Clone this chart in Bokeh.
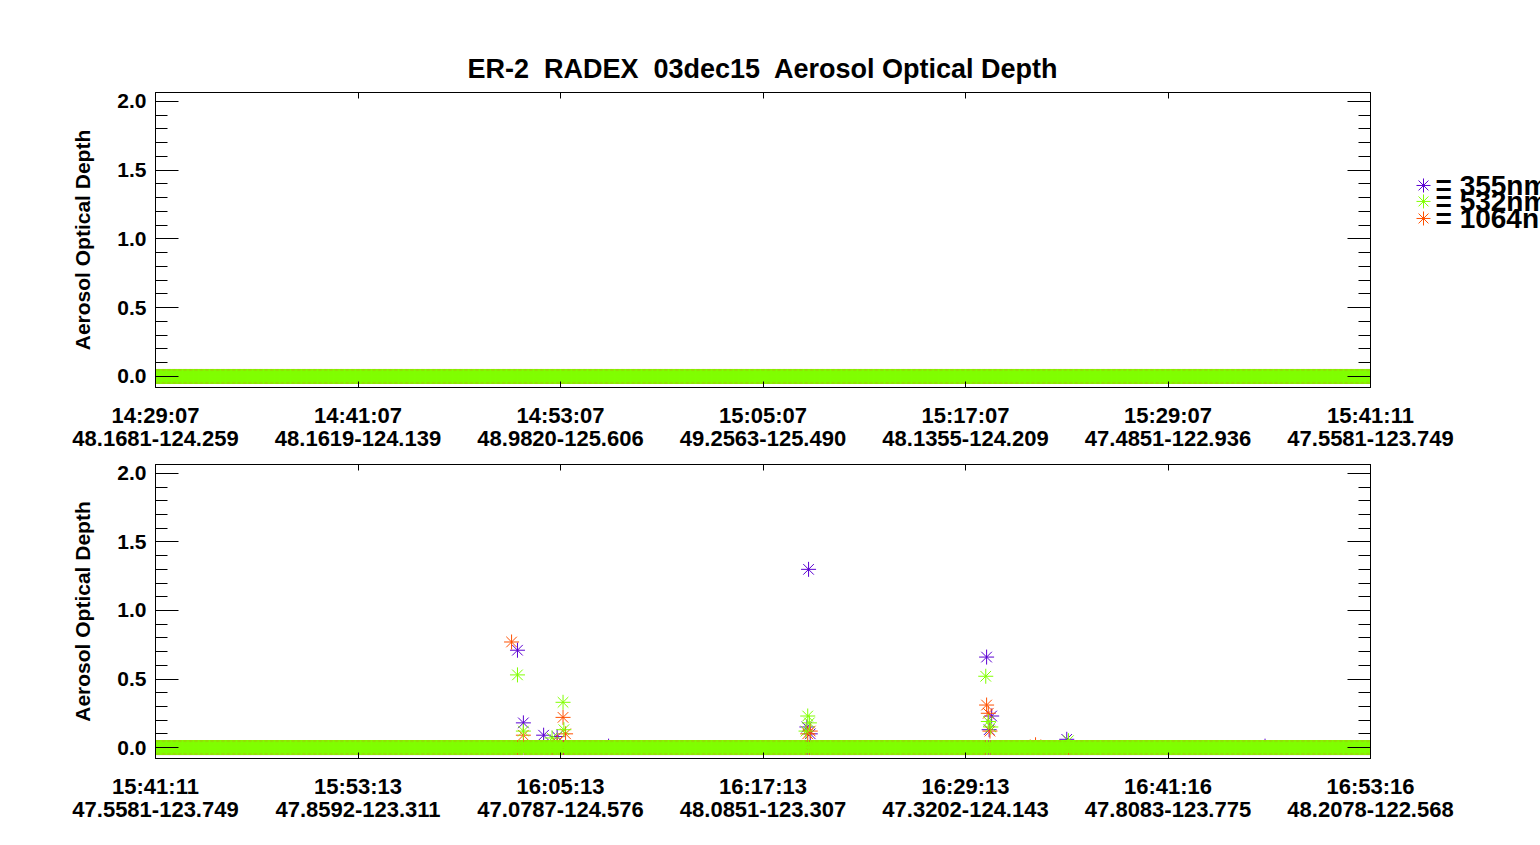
import numpy as np
from bokeh.plotting import figure
from bokeh.models import FixedTicker, LinearAxis, Range1d
from bokeh.layouts import column, row
from bokeh.embed import file_html
from bokeh.resources import INLINE
from bokeh.core.properties import value

## data ##

# each leg is 1441 retrieval samples, labelled every 240 samples
n_samples = 1441
tick_idx = [0, 240, 480, 720, 960, 1200, 1440]

leg1_times = ["14:29:07", "14:41:07", "14:53:07", "15:05:07", "15:17:07", "15:29:07", "15:41:11"]
leg1_pos = ["48.1681-124.259", "48.1619-124.139", "48.9820-125.606", "49.2563-125.490",
            "48.1355-124.209", "47.4851-122.936", "47.5581-123.749"]
leg2_times = ["15:41:11", "15:53:13", "16:05:13", "16:17:13", "16:29:13", "16:41:16", "16:53:16"]
leg2_pos = ["47.5581-123.749", "47.8592-123.311", "47.0787-124.576", "48.0851-123.307",
            "47.3202-124.143", "47.8083-123.775", "48.2078-122.568"]

# first leg: no aerosol anywhere (all retrievals 0.0)
leg1_idx_355, leg1_aod_355 = [], []
leg1_idx_532, leg1_aod_532 = [], []
leg1_idx_1064, leg1_aod_1064 = [], []

# second leg: non-zero retrievals (sample, aod); the rest are 0.0
leg2_idx_355 = [429, 436, 460, 476, 537, 772, 774, 776, 985, 988, 991, 1080, 1315]
leg2_aod_355 = [0.71, 0.18, 0.09, 0.08, 0.01, 0.15, 1.30, 0.10, 0.66, 0.13, 0.23, 0.06, 0.01]
leg2_idx_532 = [429, 436, 470, 483, 484, 771, 773, 775, 984, 987, 990, 1082]
leg2_aod_532 = [0.53, 0.12, 0.07, 0.33, 0.13, 0.12, 0.23, 0.18, 0.52, 0.19, 0.15, 0.05]
leg2_idx_1064 = [422, 436, 476, 483, 486, 773, 776, 985, 987, 989, 1043]
leg2_aod_1064 = [0.77, 0.09, 0.04, 0.22, 0.10, 0.10, 0.12, 0.31, 0.25, 0.12, 0.02]

wavelengths = ["355nm", "532nm", "1064nm"]
colors = ["#5a00d2", "#80ff00", "#ff5000"]

FONT = "Liberation Sans"
TITLE = "ER-2\u00a0 RADEX\u00a0 03dec15\u00a0 Aerosol Optical Depth"
Y_LO, Y_HI = -0.08, 2.065


def series(idx, vals):
    aod = np.zeros(n_samples)
    aod[idx] = vals
    return aod


def style_labels(ax, size):
    ax.major_label_text_font = FONT
    ax.major_label_text_font_size = size
    ax.major_label_text_font_style = "bold"
    ax.major_label_text_color = "black"


def make_panel(times, pos, data, height, top, bottom, title=None):
    p = figure(width=1540, height=height, x_range=Range1d(0, 1440),
               y_range=Range1d(Y_LO, Y_HI), output_backend="svg",
               toolbar_location=None, min_border_left=155, min_border_right=170,
               min_border_top=top, min_border_bottom=bottom)
    p.grid.visible = False
    p.outline_line_color = "black"
    p.background_fill_color = "white"
    p.border_fill_color = "white"

    if title:
        p.title.text = title
        p.title.align = "center"
        p.title.text_font = FONT
        p.title.text_font_size = "27px"
        p.title.text_font_style = "bold"
        p.title.text_color = "black"
        p.title.standoff = 18

    samples = np.arange(n_samples)
    # 355 and 1064 first, 532 drawn last so it sits on top
    for k in [0, 2, 1]:
        idx, vals = data[k]
        p.scatter(samples, series(idx, vals), marker="asterisk", size=15,
                  line_color=colors[k], line_width=1)

    # bottom: time on first row, lat-lon on second row
    xt = FixedTicker(ticks=tick_idx, minor_ticks=[])
    ax = p.xaxis[0]
    ax.ticker = xt
    ax.major_label_overrides = {t: l for t, l in zip(tick_idx, times)}
    ax.major_tick_in = 6
    ax.major_tick_out = 0
    ax.major_label_standoff = 15
    style_labels(ax, "22px")

    ax2 = LinearAxis(ticker=xt, major_tick_in=0, major_tick_out=0, axis_line_color=None,
                     major_label_overrides={t: l for t, l in zip(tick_idx, pos)},
                     major_label_standoff=0)
    style_labels(ax2, "22px")
    p.add_layout(ax2, "below")

    ax_top = LinearAxis(ticker=xt, major_tick_in=6, major_tick_out=0,
                        major_label_overrides={t: "" for t in tick_idx},
                        major_label_text_color=None, major_label_standoff=0)
    p.add_layout(ax_top, "above")

    yt = FixedTicker(ticks=[0.0, 0.5, 1.0, 1.5, 2.0],
                     minor_ticks=[round(0.1 * i, 1) for i in range(21)])
    ay = p.yaxis[0]
    ay.ticker = yt
    ay.axis_label = "Aerosol Optical Depth"
    ay.axis_label_text_font = FONT
    ay.axis_label_text_font_size = "21px"
    ay.axis_label_text_font_style = "bold"
    ay.axis_label_text_color = "black"
    ay.axis_label_standoff = 20
    ay.major_tick_in = 23
    ay.major_tick_out = 0
    ay.minor_tick_in = 12
    ay.minor_tick_out = 0
    ay.major_label_standoff = 9
    style_labels(ay, "21px")
    ay.major_label_overrides = {0.0: "0.0", 0.5: "0.5", 1.0: "1.0", 1.5: "1.5", 2.0: "2.0"}

    ay_right = LinearAxis(ticker=yt, major_tick_in=23, major_tick_out=0,
                          minor_tick_in=12, minor_tick_out=0,
                          major_label_overrides={t: "" for t in [0.0, 0.5, 1.0, 1.5, 2.0]},
                          major_label_text_color=None, major_label_standoff=0)
    p.add_layout(ay_right, "right")
    return p


p1 = make_panel(leg1_times, leg1_pos,
                [(leg1_idx_355, leg1_aod_355), (leg1_idx_532, leg1_aod_532),
                 (leg1_idx_1064, leg1_aod_1064)],
                456, 92, 69, title=TITLE)
p2 = make_panel(leg2_times, leg2_pos,
                [(leg2_idx_355, leg2_aod_355), (leg2_idx_532, leg2_aod_532),
                 (leg2_idx_1064, leg2_aod_1064)],
                384, 8, 82)

# legend: a transparent strip laid over the right border of the top panel,
# sharing its vertical scale; rows packed tight like the original
leg = figure(width=135, height=456, x_range=Range1d(0, 135), y_range=Range1d(Y_LO, Y_HI),
             x_axis_type=None, y_axis_type=None, output_backend="svg",
             toolbar_location=None, min_border_left=0, min_border_right=0,
             min_border_top=92, min_border_bottom=69, margin=(0, 0, 0, -135))
leg.outline_line_color = None
leg.background_fill_color = None
leg.border_fill_color = None
leg.grid.visible = False
leg_y = [1.389, 1.273, 1.149]
leg.scatter([18, 18, 18], leg_y, marker="asterisk", size=14, line_color=colors)
leg.text([30, 30, 30], leg_y, text=["= " + w for w in wavelengths],
         text_baseline="middle", text_font=value(FONT), text_font_size="28px",
         text_font_style="bold", text_color="black")

layout = column(row(p1, leg), p2)

open("out.html", "w").write(file_html(layout, INLINE))
